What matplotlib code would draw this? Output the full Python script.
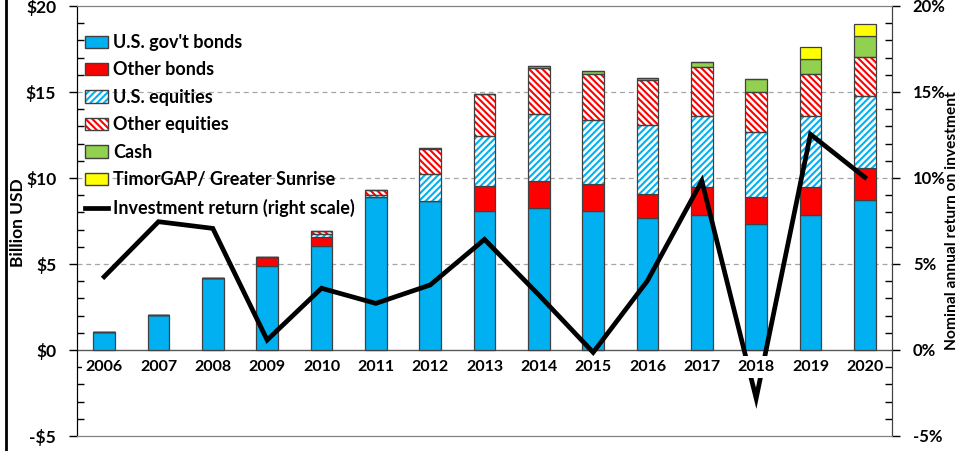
import numpy as np
import matplotlib
matplotlib.use("Agg")
import matplotlib.pyplot as plt
from matplotlib.patches import Patch
from matplotlib.lines import Line2D
from matplotlib.legend_handler import HandlerTuple
from matplotlib.ticker import MultipleLocator

plt.rcParams['font.family'] = ['Lato', 'DejaVu Sans']
plt.rcParams['font.weight'] = 'bold'
plt.rcParams['hatch.linewidth'] = 1.5

# Data (billion USD)
years = ["2006", "2007", "2008", "2009", "2010", "2011", "2012", "2013",
         "2014", "2015", "2016", "2017", "2018", "2019", "2020"]
us_gov_bonds = [1.03, 2.05, 4.20, 4.88, 6.06, 8.88, 8.64, 8.06, 8.28, 8.06, 7.67, 7.83, 7.34, 7.87, 8.74]
other_bonds = [0, 0, 0, 0.51, 0.53, 0, 0, 1.46, 1.55, 1.57, 1.42, 1.63, 1.57, 1.59, 1.86]
us_equities = [0, 0, 0, 0, 0.14, 0.15, 1.57, 2.90, 3.87, 3.76, 3.97, 4.14, 3.78, 4.14, 4.15]
other_equities = [0, 0, 0, 0, 0.16, 0.25, 1.48, 2.44, 2.70, 2.64, 2.64, 2.85, 2.31, 2.43, 2.30]
cash = [0, 0, 0, 0, 0.03, 0, 0.03, 0.04, 0.11, 0.19, 0.09, 0.27, 0.76, 0.91, 1.19]
timorgap = [0, 0, 0, 0, 0, 0, 0, 0, 0, 0, 0, 0, 0, 0.68, 0.69]
# Nominal annual return (%)
inv_return = [4.26, 7.46, 7.07, 0.58, 3.59, 2.71, 3.78, 6.43, 3.2, -0.14, 4.03, 9.83, -2.81, 12.54, 10.04]

BLUE = "#00B0F0"
RED = "#FF0000"
GREEN = "#92D050"
YELLOW = "#FFFF00"
EDGE = "#404040"
HATCH_US = "/////"
HATCH_OTHER = "\\\\\\\\\\"

fig = plt.figure(figsize=(9.6, 4.51), dpi=100)
ax = fig.add_axes([77 / 960, 15 / 451, 815 / 960, 430 / 451])

x = np.arange(len(years))
w = 0.4
bottom = np.zeros(len(years))

series = [
    (us_gov_bonds, BLUE, None),
    (other_bonds, RED, None),
    (us_equities, BLUE, HATCH_US),
    (other_equities, RED, HATCH_OTHER),
    (cash, GREEN, None),
    (timorgap, YELLOW, None),
]
for vals, col, hatch in series:
    vals = np.array(vals)
    if hatch:
        ax.bar(x, vals, w, bottom=bottom, color="white", edgecolor=col,
               hatch=hatch, linewidth=0, zorder=2)
        ax.bar(x, vals, w, bottom=bottom, fill=False, edgecolor=EDGE,
               linewidth=0.9, zorder=2.1)
    else:
        ax.bar(x, vals, w, bottom=bottom, color=col, edgecolor=EDGE,
               linewidth=0.9, zorder=2)
    bottom = bottom + vals

# return line (right scale has the same numeric range as the left one)
ax.plot(x, inv_return, color="black", lw=3.4, zorder=4, solid_joinstyle="miter")

for yv in [5, 10, 15]:
    ax.axhline(yv, color="#A6A6A6", lw=0.9, ls=(0, (4, 3)), zorder=0.5)
ax.axhline(0, color="#595959", lw=1.0, zorder=1.5)

ax.set_xlim(-0.5, len(years) - 0.5)
ax.set_ylim(-5, 20)
ax.set_xticks([])
for i, yr in enumerate(years):
    ax.text(i, -1.0, yr, ha="center", va="center", fontsize=11.5, fontweight="bold",
            zorder=5, clip_on=False,
            bbox=dict(boxstyle="square,pad=0.25", fc="white", ec="none"))

ax.set_yticks([-5, 0, 5, 10, 15, 20])
ax.set_yticklabels(["-$5", "$0", "$5", "$10", "$15", "$20"], fontsize=12.5, fontweight="bold")
ax.yaxis.set_minor_locator(MultipleLocator(1))
ax.tick_params(axis="y", which="major", direction="out", length=6, width=1, pad=9)
ax.tick_params(axis="y", which="minor", direction="in", length=5, width=1)

ax2 = ax.twinx()
ax2.set_ylim(-5, 20)
ax2.set_yticks([-5, 0, 5, 10, 15, 20])
ax2.set_yticklabels(["-5%", "0%", "5%", "10%", "15%", "20%"], fontsize=12, fontweight="bold")
ax2.yaxis.set_minor_locator(MultipleLocator(1))
ax2.tick_params(axis="y", which="major", direction="out", length=6, width=1, pad=9)
ax2.tick_params(axis="y", which="minor", direction="in", length=5, width=1)

for a in (ax, ax2):
    a.spines["top"].set_color("#808080")
    a.spines["bottom"].set_color("#808080")
    a.spines["left"].set_color("black")
    a.spines["right"].set_color(EDGE)

fig.text(18 / 960, 1 - 223 / 451, "Billion USD", rotation=90, ha="center", va="center",
         fontsize=12.5, fontweight="bold")
fig.text(952 / 960, 1 - 221 / 451, "Nominal annual return on investment", rotation=90,
         ha="center", va="center", fontsize=11.2, fontweight="bold")

fig.add_artist(Line2D([6 / 960, 6 / 960], [0, 1], color="black", lw=2))

handles = [
    Patch(facecolor=BLUE, edgecolor=EDGE),
    Patch(facecolor=RED, edgecolor=EDGE),
    (Patch(facecolor="white", edgecolor=BLUE, hatch=HATCH_US, lw=0), Patch(fill=False, edgecolor=EDGE)),
    (Patch(facecolor="white", edgecolor=RED, hatch=HATCH_OTHER, lw=0), Patch(fill=False, edgecolor=EDGE)),
    Patch(facecolor=GREEN, edgecolor=EDGE),
    Patch(facecolor=YELLOW, edgecolor=EDGE),
    Line2D([], [], color="black", lw=3.4),
]
labels = ["U.S. gov't bonds", "Other bonds", "U.S. equities", "Other equities", "Cash",
          "TimorGAP/ Greater Sunrise", "Investment return (right scale)"]
leg = ax2.legend(handles, labels, loc="upper left", bbox_to_anchor=(8 / 815, 1 - 28 / 430),
                 frameon=False, fontsize=13, handlelength=1.28, handleheight=0.67,
                 handletextpad=0.28, labelspacing=0.58, borderaxespad=0, borderpad=0,
                 handler_map={tuple: HandlerTuple(ndivide=1)})
for t in leg.get_texts():
    t.set_fontweight("bold")

fig.savefig("out.png", dpi=100)
